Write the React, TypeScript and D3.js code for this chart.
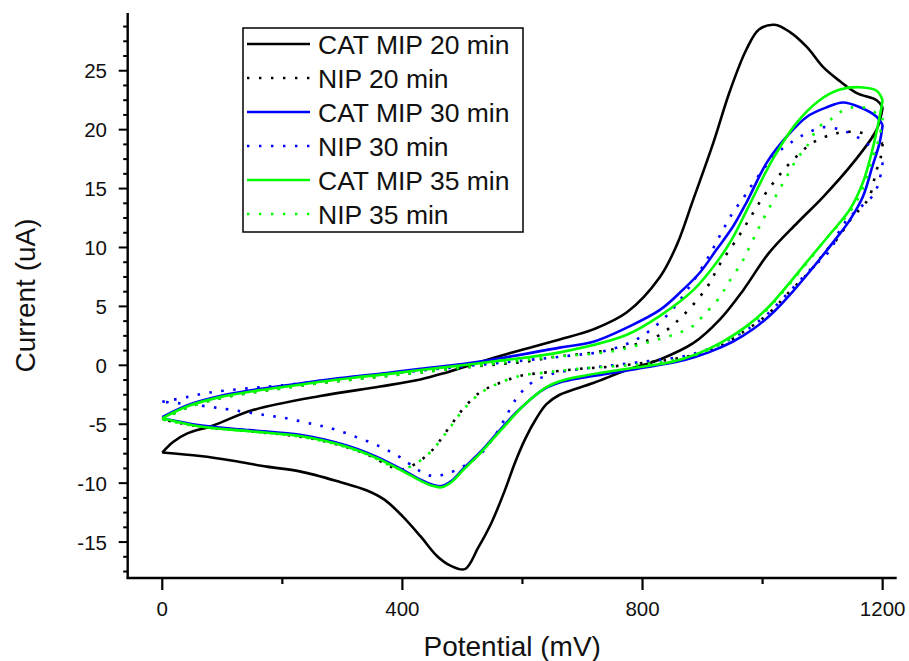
import React from "react";
import * as d3 from "d3";

// ---- data (Potential mV, Current uA), full CV loops ----
const catMip20: [number, number][] = [
  [0,-7.4],[18,-6.5],[41,-5.8],[85,-5.1],[151,-3.8],[263,-2.6],[363,-1.8],[430,-1.2],[474,-0.6],[557,0.7],[601,1.35],[662,2.2],[718,3.05],[774,4.5],[829,7.5],[857,10.2],[884,14.0],[918,18.9],[945,23.2],[973,26.8],[994,28.5],[1020,28.9],[1045,28.3],[1074,27.0],[1101,25.3],[1129,24.1],[1157,23.1],[1190,22.5],[1200,21.9],
  [1190,20.0],[1151,17.2],[1101,14.3],[1058,12.1],[1010,9.5],[968,6.4],[929,3.9],[885,1.9],[829,0.5],[774,-0.4],[718,-1.5],[662,-2.5],[640,-3.3],[622,-4.6],[605,-6.2],[588,-8.2],[570,-10.7],[548,-13.4],[526,-15.5],[504,-17.3],[480,-17.0],[458,-16.2],[430,-14.5],[400,-12.8],[370,-11.4],[340,-10.6],[296,-9.9],[229,-9.0],[174,-8.6],[118,-8.1],[63,-7.7],[0,-7.4],
];
const nip20: [number, number][] = [
  [0,-4.6],[41,-3.6],[96,-2.8],[151,-2.3],[207,-1.9],[263,-1.5],[318,-1.2],[374,-0.9],[430,-0.6],[500,-0.2],[563,0.1],[612,0.35],[651,0.7],[720,1.1],[790,1.8],[829,2.6],[865,4.1],[907,6.6],[929,8.6],[957,10.7],[979,12.5],[1001,14.3],[1029,16.2],[1054,17.6],[1084,18.9],[1124,19.7],[1157,19.8],[1185,19.4],[1200,18.8],
  [1195,17.2],[1190,16.6],[1178,14.3],[1167,13.5],[1150,12.6],[1124,10.7],[1107,9.8],[1079,8.0],[1046,6.3],[1010,4.4],[970,2.9],[920,1.4],[860,0.6],[807,0.25],[750,-0.1],[695,-0.3],[640,-0.6],[596,-0.9],[557,-1.6],[529,-2.3],[501,-3.7],[479,-5.2],[446,-7.4],[413,-8.6],[395,-8.85],[375,-8.45],[345,-7.65],[310,-7.0],[270,-6.45],[229,-6.05],[146,-5.6],[63,-5.2],[0,-4.6],
];
const catMip30: [number, number][] = [
  [0,-4.4],[41,-3.4],[96,-2.6],[151,-2.1],[207,-1.7],[263,-1.3],[318,-0.95],[374,-0.65],[430,-0.3],[500,0.1],[563,0.6],[662,1.5],[718,2.0],[774,3.2],[829,4.7],[867,6.4],[896,7.9],[923,9.8],[951,11.8],[974,13.9],[1007,17.2],[1040,19.4],[1074,21.1],[1107,21.9],[1134,22.3],[1162,21.9],[1190,21.1],[1200,20.4],
  [1195,18.9],[1183,16.9],[1167,14.3],[1145,12.3],[1120,10.6],[1084,8.3],[1051,6.3],[1018,4.5],[985,3.1],[950,2.0],[910,1.1],[870,0.45],[830,0.05],[790,-0.3],[750,-0.65],[700,-1.05],[662,-1.45],[640,-1.9],[620,-2.6],[600,-3.5],[580,-4.5],[557,-5.8],[529,-7.4],[501,-8.8],[482,-9.8],[465,-10.25],[448,-10.1],[432,-9.75],[405,-9.0],[375,-8.2],[345,-7.5],[310,-6.85],[270,-6.3],[229,-5.9],[146,-5.5],[63,-5.1],[0,-4.5],
];
const nip30: [number, number][] = [
  [0,-3.1],[41,-2.7],[80,-2.3],[134,-2.0],[200,-1.7],[300,-1.1],[400,-0.6],[500,-0.1],[600,0.4],[675,0.8],[735,1.2],[790,2.2],[840,4.2],[880,6.8],[912,9.4],[934,11.5],[951,13.0],[968,14.2],[985,15.5],[1020,17.8],[1050,19.0],[1074,19.7],[1100,20.2],[1130,20.0],[1160,19.3],[1185,18.3],[1200,17.2],
  [1195,15.8],[1185,14.5],[1165,13.5],[1145,12.6],[1129,11.5],[1113,9.8],[1079,8.1],[1040,6.0],[1000,4.0],[960,2.6],[900,1.2],[850,0.6],[800,0.3],[750,0.0],[700,-0.3],[660,-0.6],[634,-1.0],[612,-1.6],[590,-2.8],[570,-4.6],[551,-6.2],[529,-7.6],[501,-8.6],[474,-9.2],[451,-9.4],[430,-9.0],[396,-7.8],[363,-6.9],[324,-6.1],[285,-5.4],[252,-5.0],[207,-4.5],[168,-4.2],[91,-3.6],[24,-3.2],[0,-3.1],
];
const catMip35: [number, number][] = [
  [0,-4.5],[41,-3.5],[96,-2.7],[151,-2.2],[207,-1.8],[263,-1.4],[318,-1.05],[374,-0.75],[430,-0.4],[500,0.0],[563,0.4],[662,1.1],[774,2.6],[829,4.2],[885,6.4],[923,8.7],[950,10.8],[975,13.3],[1017,17.5],[1057,20.6],[1095,22.5],[1129,23.4],[1162,23.6],[1190,23.3],[1200,22.5],
  [1195,21.1],[1183,18.3],[1167,15.5],[1145,13.2],[1110,11.0],[1074,8.8],[1040,6.7],[1007,4.8],[970,3.2],[930,1.9],[890,0.95],[850,0.3],[802,-0.1],[747,-0.5],[700,-0.9],[662,-1.35],[640,-1.85],[620,-2.6],[600,-3.5],[580,-4.6],[557,-5.9],[529,-7.5],[501,-8.9],[482,-9.9],[465,-10.35],[448,-10.2],[432,-9.85],[405,-9.1],[375,-8.3],[345,-7.6],[310,-6.95],[270,-6.4],[229,-6.0],[146,-5.6],[63,-5.2],[0,-4.5],
];
const nip35: [number, number][] = [
  [0,-4.6],[41,-3.6],[96,-2.8],[151,-2.3],[207,-1.9],[263,-1.5],[318,-1.2],[374,-0.9],[430,-0.6],[500,-0.2],[563,0.2],[650,0.7],[751,1.2],[812,2.0],[846,2.5],[883,3.3],[901,4.2],[929,5.8],[943,7.0],[966,8.8],[976,9.8],[995,11.8],[1018,14.0],[1040,16.0],[1057,17.5],[1074,18.6],[1093,20.2],[1112,20.8],[1130,21.5],[1150,21.9],[1175,21.8],[1200,21.0],
  [1195,19.5],[1183,17.5],[1167,15.0],[1145,13.0],[1110,11.0],[1074,8.7],[1040,6.6],[1007,4.7],[970,3.1],[930,1.8],[890,0.9],[850,0.4],[802,0.1],[747,-0.1],[692,-0.3],[640,-0.6],[596,-0.9],[557,-1.6],[529,-2.4],[501,-3.8],[479,-5.3],[446,-7.4],[413,-8.6],[395,-8.8],[375,-8.4],[345,-7.65],[310,-7.0],[270,-6.45],[229,-6.05],[146,-5.6],[63,-5.2],[0,-4.6],
];

const seriesData = [catMip20, nip20, catMip30, nip30, catMip35, nip35];
const seriesLabels = ["CAT MIP 20 min", "NIP 20 min", "CAT MIP 30 min", "NIP 30 min", "CAT MIP 35 min", "NIP 35 min"];
const seriesColors = ["#000000", "#000000", "#0000ff", "#0000ff", "#00ff00", "#00ff00"];
const seriesDotted = [false, true, false, true, false, true];

const xMajorTicks = [0, 400, 800, 1200];
const xMinorTicks = [200, 600, 1000];
const yMajorTicks = [-15, -10, -5, 0, 5, 10, 15, 20, 25];
const yMinorTicks = [-17.5, -16.25, -13.75, -12.5, -11.25, -8.75, -7.5, -6.25, -3.75, -2.5, -1.25, 1.25, 2.5, 3.75, 6.25, 7.5, 8.75, 11.25, 12.5, 13.75, 16.25, 17.5, 18.75, 21.25, 22.5, 23.75, 26.25, 27.5, 28.75];

const xTitle = "Potential (mV)";
const yTitle = "Current (uA)";

const FONT = "'Liberation Sans', Arial, sans-serif";

export default function App() {
  const W = 909, H = 661;
  const left = 127.7, right = 896.7, top = 13, bottom = 578;
  const x = d3.scaleLinear().domain([-57.6, 1223.4]).range([left, right]);
  const y = d3.scaleLinear().domain([-18.05, 29.9]).range([bottom, top]);
  const line = d3
    .line<[number, number]>()
    .x((d) => x(d[0]))
    .y((d) => y(d[1]))
    .curve(d3.curveCatmullRom.alpha(0.5));

  const branches = (pts: [number, number][]) => {
    let iMax = 0;
    pts.forEach((p, i) => {
      if (p[0] > pts[iMax][0]) iMax = i;
    });
    return [pts.slice(0, iMax + 1), pts.slice(iMax)];
  };

  const legX = 243, legY = 28, legW = 280, legH = 204;
  const rowY = (i: number) => 44 + i * 34;

  return (
    <div style={{ position: "absolute", left: 0, top: 0, width: W, height: H, background: "#fff" }}>
      <svg width={W} height={H} style={{ display: "block" }}>
        <rect width={W} height={H} fill="#fff" />
        {/* series */}
        {seriesData.map((pts, si) =>
          branches(pts).map((b, bi) => (
            <path
              key={`s${si}-${bi}`}
              d={line(b) || ""}
              fill="none"
              stroke={seriesColors[si]}
              strokeWidth={seriesDotted[si] ? 2.6 : 2.6}
              strokeDasharray={seriesDotted[si] ? "2.6 9.4" : undefined}
              strokeLinejoin="round"
            />
          ))
        )}
        {/* axes */}
        <line x1={left} x2={left} y1={top} y2={bottom + 1} stroke="#000" strokeWidth={2.4} />
        <line x1={left - 1} x2={right} y1={bottom} y2={bottom} stroke="#000" strokeWidth={2.4} />
        {yMajorTicks.map((t) => (
          <g key={`ym${t}`}>
            <line x1={left - 9} x2={left} y1={y(t)} y2={y(t)} stroke="#000" strokeWidth={2} />
            <text x={107} y={y(t)} textAnchor="end" dominantBaseline="central" fontFamily={FONT} fontSize={20.5} fill="#111">
              {t}
            </text>
          </g>
        ))}
        {yMinorTicks.map((t) => (
          <line key={`yn${t}`} x1={left - 4.5} x2={left} y1={y(t)} y2={y(t)} stroke="#000" strokeWidth={2} />
        ))}
        {xMajorTicks.map((t) => (
          <g key={`xm${t}`}>
            <line x1={x(t)} x2={x(t)} y1={bottom} y2={bottom + 12} stroke="#000" strokeWidth={2.2} />
            <text x={x(t)} y={616} textAnchor="middle" fontFamily={FONT} fontSize={20.5} fill="#111">
              {t}
            </text>
          </g>
        ))}
        {xMinorTicks.map((t) => (
          <line key={`xn${t}`} x1={x(t)} x2={x(t)} y1={bottom} y2={bottom + 6} stroke="#000" strokeWidth={2.2} />
        ))}
        <text x={(left + right) / 2} y={656} textAnchor="middle" fontFamily={FONT} fontSize={28} fill="#111">
          {xTitle}
        </text>
        <text
          transform={`translate(35, ${(top + bottom) / 2}) rotate(-90)`}
          textAnchor="middle"
          fontFamily={FONT}
          fontSize={28}
          fill="#111"
        >
          {yTitle}
        </text>
        {/* legend */}
        <rect x={legX} y={legY} width={legW} height={legH} fill="#fff" stroke="#000" strokeWidth={1.5} />
        {seriesLabels.map((lab, i) => (
          <g key={`lg${i}`}>
            <line
              x1={247}
              x2={310}
              y1={rowY(i)}
              y2={rowY(i)}
              stroke={seriesColors[i]}
              strokeWidth={seriesDotted[i] ? 2.4 : 2.6}
              strokeDasharray={seriesDotted[i] ? "2.4 9.6" : undefined}
            />
            <text x={318} y={rowY(i) + 1} dominantBaseline="central" fontFamily={FONT} fontSize={26.5} fill="#111">
              {lab}
            </text>
          </g>
        ))}
      </svg>
    </div>
  );
}
